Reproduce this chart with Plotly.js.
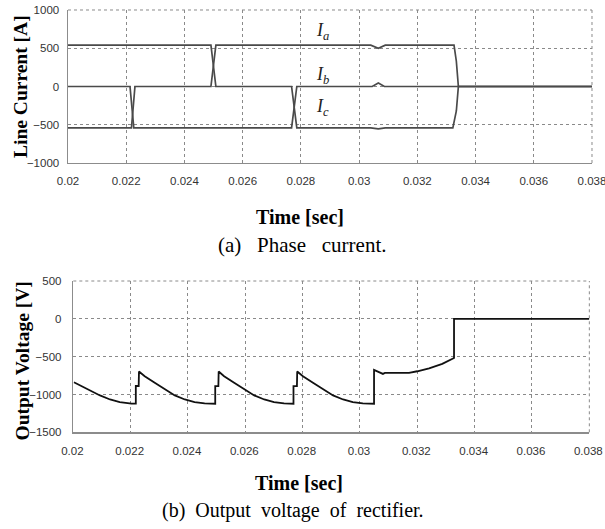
<!DOCTYPE html>
<html>
<head>
<meta charset="utf-8">
<script src="https://cdn.plot.ly/plotly-3.0.1.min.js"></script>
<style>html,body{margin:0;padding:0;background:#fff;}#chart{width:605px;height:529px;}</style>
</head>
<body>
<div id="chart"></div>
<script>
// ---- (a) Phase currents [A] ----
var tIa = [0.02, 0.02218, 0.02230, 0.02491, 0.02508, 0.03040, 0.03066, 0.03090, 0.03326, 0.03334, 0.03341, 0.038];
var Ia  = [-540, -540, 0, 0, 540, 540, 500, 540, 540, 330, 0, 0];
var tIb = [0.02, 0.02213, 0.02226, 0.02768, 0.02786, 0.03045, 0.03066, 0.03087, 0.038];
var Ib  = [0, 0, -540, -540, 0, 0, 45, 0, 0];
var tIc = [0.02, 0.02491, 0.02508, 0.02768, 0.02786, 0.03040, 0.03066, 0.03090, 0.03322, 0.03334, 0.03341, 0.038];
var Ic  = [540, 540, 0, 0, -540, -540, -555, -540, -540, -320, 0, 0];

// ---- (b) Rectifier output voltage [V] ----
var tV = [0.02002, 0.02058, 0.02093, 0.02128, 0.02162, 0.02203, 0.02218,
          0.02218, 0.02228, 0.02229, 0.02249, 0.02284, 0.02319, 0.02354, 0.02389, 0.02423, 0.02458, 0.02495,
          0.02495, 0.02506, 0.02507, 0.02526, 0.02561, 0.02596, 0.02631, 0.02666, 0.02700, 0.02735, 0.02768,
          0.02768, 0.02780, 0.02781, 0.02801, 0.02836, 0.02871, 0.02906, 0.02941, 0.02975, 0.03010, 0.03049,
          0.03049, 0.03080, 0.03087, 0.03171, 0.03200, 0.03241, 0.03287, 0.03328,
          0.03328, 0.038];
var V  = [-838, -947, -1013, -1066, -1101, -1122, -1122,
          -888, -888, -697, -759, -846, -934, -1013, -1066, -1101, -1118, -1122,
          -890, -890, -697, -759, -846, -934, -1013, -1066, -1101, -1118, -1122,
          -890, -890, -697, -759, -846, -934, -1013, -1066, -1101, -1118, -1122,
          -675, -728, -715, -715, -693, -654, -596, -517,
          0, 0];

var xTicks = [0.02, 0.022, 0.024, 0.026, 0.028, 0.03, 0.032, 0.034, 0.036, 0.038];
var xTickText = ['0.02', '0.022', '0.024', '0.026', '0.028', '0.03', '0.032', '0.034', '0.036', '0.038'];
var yTicksI = [-1000, -500, 0, 500, 1000];
var yTicksV = [-1500, -1000, -500, 0, 500];

var xTitle = 'Time [sec]';
var yTitleI = 'Line Current [A]';
var yTitleV = 'Output Voltage [V]';
var captionA = '(a)&nbsp;&nbsp; Phase&nbsp;&nbsp; current.';
var captionB = '(b)&nbsp; Output&nbsp; voltage&nbsp; of&nbsp; rectifier.';

var serif = 'Liberation Serif, Times New Roman, serif';
var tickFont = {family: 'Liberation Sans, Arial, sans-serif', size: 11.5, color: '#333'};
var gridCol = '#8a8a8a';
var titleFont = {family: serif, size: 19.5, color: '#000', weight: 'bold'};

var curStyle = {color: '#4a4a4a', width: 1.7};
var traces = [
  {x: tIa, y: Ia, type: 'scatter', mode: 'lines', name: 'Ia', line: curStyle, xaxis: 'x', yaxis: 'y'},
  {x: tIb, y: Ib, type: 'scatter', mode: 'lines', name: 'Ib', line: curStyle, xaxis: 'x', yaxis: 'y'},
  {x: tIc, y: Ic, type: 'scatter', mode: 'lines', name: 'Ic', line: curStyle, xaxis: 'x', yaxis: 'y'},
  {x: tV, y: V, type: 'scatter', mode: 'lines', name: 'Vout', line: {color: '#111', width: 1.8}, xaxis: 'x2', yaxis: 'y2'}
];

function xAxis(domain, anchor, shift) {
  return {
    domain: domain, anchor: anchor, range: [0.02, 0.038], automargin: false,
    tickvals: xTicks, ticktext: xTickText, ticks: '', ticklabelstandoff: 7, ticklabelshift: shift,
    ticklabeloverflow: 'allow',
    tickfont: tickFont, showgrid: true, gridcolor: gridCol, griddash: 'dot', gridwidth: 1,
    showline: true, linecolor: '#8c8c8c', linewidth: 1.5, mirror: false, zeroline: false
  };
}
function yAxis(domain, anchor, range, ticks, lblStandoff) {
  return {
    domain: domain, anchor: anchor, range: range, automargin: false,
    tickvals: ticks, ticks: '', ticklabelstandoff: lblStandoff, ticklabeloverflow: 'allow',
    tickfont: tickFont, showgrid: true, gridcolor: gridCol, griddash: 'dot', gridwidth: 1,
    showline: true, linecolor: '#8c8c8c', linewidth: 1.5, mirror: false, zeroline: false
  };
}

function edgeShapes(xr, yr) {
  return [
    {type: 'line', xref: xr + ' domain', yref: yr + ' domain', x0: 0, x1: 1, y0: 1, y1: 1,
     line: {color: gridCol, width: 1, dash: 'dot'}, layer: 'below'},
    {type: 'line', xref: xr + ' domain', yref: yr + ' domain', x0: 1, x1: 1, y0: 0, y1: 1,
     line: {color: gridCol, width: 1, dash: 'dot'}, layer: 'below'}
  ];
}

function paperText(text, px, py, font, angle) {
  return {xref: 'paper', yref: 'paper', x: px / 605, y: 1 - py / 529, xanchor: 'center', yanchor: 'middle',
          text: text, showarrow: false, font: font, textangle: angle || 0};
}

var layout = {
  width: 605, height: 529,
  margin: {l: 0, r: 0, t: 0, b: 0},
  paper_bgcolor: '#fff', plot_bgcolor: '#fff',
  showlegend: false,
  xaxis: xAxis([0.1124, 0.9785], 'y', -2.5),
  yaxis: yAxis([0.6919, 0.9811], 'x', [-1000, 1000], yTicksI, 5),
  xaxis2: xAxis([0.1212, 0.9741], 'y2', -1),
  yaxis2: yAxis([0.1828, 0.4688], 'x2', [-1500, 500], yTicksV, 8),
  shapes: edgeShapes('x', 'y').concat(edgeShapes('x2', 'y2')),
  annotations: [
    {xref: 'x', yref: 'y', x: 0.02873, y: 720, text: '<i>I<sub>a</sub></i>', showarrow: false, font: {family: serif, size: 18, color: '#222'}},
    {xref: 'x', yref: 'y', x: 0.02873, y: 150, text: '<i>I<sub>b</sub></i>', showarrow: false, font: {family: serif, size: 18, color: '#222'}},
    {xref: 'x', yref: 'y', x: 0.02873, y: -270, text: '<i>I<sub>c</sub></i>', showarrow: false, font: {family: serif, size: 18, color: '#222'}},
    paperText(yTitleI, 20, 87, titleFont, -90),
    paperText(yTitleV, 21.5, 361, titleFont, -90),
    paperText(xTitle, 300, 216.5, {family: serif, size: 20, color: '#000', weight: 'bold'}),
    paperText(xTitle, 299, 483, {family: serif, size: 20, color: '#000', weight: 'bold'}),
    paperText(captionA, 302, 245, {family: serif, size: 21, color: '#000'}),
    paperText(captionB, 293, 510, {family: serif, size: 20, color: '#000'})
  ]
};

Plotly.newPlot('chart', traces, layout, {staticPlot: true, displayModeBar: false});
</script>
</body>
</html>
